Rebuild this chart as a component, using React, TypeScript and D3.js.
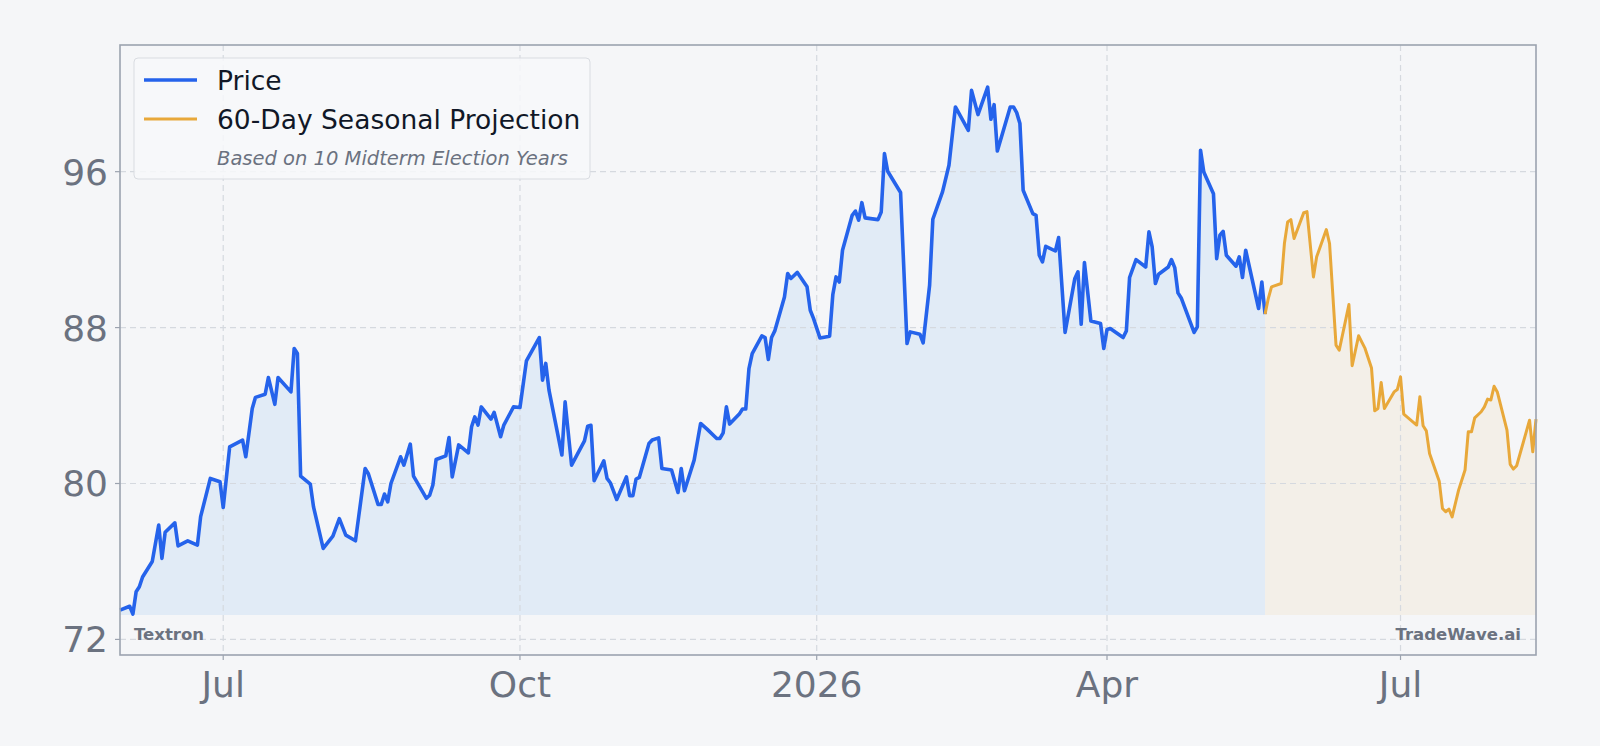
import React from "react";
import * as d3 from "d3";

const W = 1600;
const H = 746;

// day offsets counted from the first trading day shown
const startDate = new Date(2025, 4, 30);
const endDate = new Date(2026, 7, 12);

const pricePoints: [number, number][] = [
  [0, 73.5], [3, 73.7], [4, 73.3], [5, 74.45], [6, 74.7], [7, 75.2], [10, 76.0], [12, 77.87], [13, 76.16], [14, 77.5],
  [17, 77.98], [18, 76.8], [21, 77.06], [24, 76.84], [25, 78.3], [28, 80.26], [31, 80.09], [32, 78.77], [34, 81.88], [38, 82.23],
  [39, 81.37], [41, 83.85], [42, 84.42], [45, 84.58], [46, 85.44], [48, 84.06], [49, 85.44], [53, 84.7], [54, 86.93], [55, 86.67],
  [56, 80.38], [59, 79.97], [60, 78.8], [63, 76.67], [66, 77.3], [68, 78.2], [70, 77.35], [73, 77.06], [74, 78.3], [76, 80.77],
  [77, 80.5], [80, 78.93], [81, 78.93], [82, 79.46], [83, 79.06], [84, 80.0], [87, 81.37], [88, 80.94], [90, 82.02], [91, 80.38],
  [95, 79.24], [96, 79.4], [97, 79.92], [98, 81.23], [101, 81.42], [102, 82.36], [103, 80.34], [105, 81.98], [108, 81.57], [109, 82.91],
  [110, 83.42], [111, 83.0], [112, 83.93], [115, 83.3], [116, 83.65], [118, 82.4], [119, 83.0], [122, 83.93], [124, 83.9], [126, 86.29],
  [130, 87.49], [131, 85.3], [132, 86.16], [133, 84.79], [137, 81.46], [138, 84.19], [140, 80.94], [144, 82.19], [145, 82.94], [146, 82.99],
  [147, 80.14], [150, 81.16], [151, 80.26], [152, 80.04], [154, 79.18], [157, 80.34], [158, 79.37], [159, 79.37], [160, 80.23], [161, 80.31],
  [164, 82.05], [165, 82.23], [167, 82.34], [168, 80.77], [171, 80.69], [173, 79.54], [174, 80.77], [175, 79.63], [178, 81.2], [180, 83.08],
  [182, 82.79], [185, 82.31], [186, 82.31], [187, 82.6], [188, 83.93], [189, 83.05], [192, 83.56], [193, 83.82], [194, 83.82], [195, 85.9],
  [196, 86.67], [199, 87.57], [200, 87.49], [201, 86.36], [202, 87.49], [203, 87.83], [206, 89.57], [207, 90.77], [208, 90.52], [210, 90.83],
  [213, 90.09], [214, 88.89], [215, 88.47], [217, 87.47], [220, 87.56], [221, 89.7], [222, 90.6], [223, 90.34], [224, 91.97], [227, 93.76],
  [228, 93.98], [229, 93.51], [230, 94.41], [231, 93.63], [235, 93.54], [236, 93.93], [237, 96.93], [238, 96.02], [242, 94.93], [244, 87.18],
  [245, 87.78], [248, 87.66], [249, 87.22], [251, 90.17], [252, 93.56], [255, 94.96], [257, 96.33], [259, 99.32], [263, 98.12], [264, 100.17],
  [266, 98.93], [269, 100.34], [270, 98.69], [271, 99.44], [272, 97.06], [276, 99.32], [277, 99.32], [278, 99.03], [279, 98.47], [280, 95.05],
  [283, 93.85], [284, 93.76], [285, 91.71], [286, 91.37], [287, 92.17], [290, 91.93], [291, 92.62], [293, 87.75], [296, 90.5], [297, 90.86],
  [298, 88.17], [299, 91.34], [301, 88.34], [304, 88.21], [305, 86.93], [306, 87.9], [307, 87.95], [311, 87.49], [312, 87.83], [313, 90.57],
  [315, 91.49], [318, 91.11], [319, 92.91], [320, 92.14], [321, 90.26], [322, 90.74], [325, 91.11], [326, 91.49], [327, 91.08], [328, 89.78],
  [329, 89.52], [333, 87.75], [334, 88.04], [335, 97.1], [336, 95.98], [339, 94.87], [340, 91.54], [341, 92.74], [342, 92.94], [343, 91.71],
  [346, 91.15], [347, 91.63], [348, 90.57], [349, 91.97], [353, 88.98], [354, 90.34], [355, 88.69],
];

const projectionPoints: [number, number][] = [
  [355, 88.69], [356, 89.49], [357, 90.09], [360, 90.26], [361, 92.31], [362, 93.42], [363, 93.54], [364, 92.57], [367, 93.9], [368, 93.95],
  [370, 90.6], [371, 91.63], [374, 93.03], [375, 92.31], [377, 87.1], [378, 86.84], [381, 89.18], [382, 86.04], [384, 87.58], [386, 86.93],
  [388, 85.93], [389, 83.73], [390, 83.85], [391, 85.18], [392, 83.85], [395, 84.7], [396, 84.82], [397, 85.47], [398, 83.56], [402, 83.0],
  [403, 84.45], [404, 82.96], [405, 82.7], [406, 81.54], [409, 80.12], [410, 78.72], [411, 78.55], [412, 78.69], [413, 78.29], [415, 79.66],
  [417, 80.69], [418, 82.65], [419, 82.65], [420, 83.37], [422, 83.68], [423, 83.93], [424, 84.33], [425, 84.28], [426, 84.99], [427, 84.7],
  [430, 82.74], [431, 80.98], [432, 80.74], [433, 80.91], [437, 83.25], [438, 81.63], [439, 83.3],
];

const yTicks = [72, 80, 88, 96];
const xTickDates = ["2025-07-01", "2025-10-01", "2026-01-01", "2026-04-01", "2026-07-01"];
const xTickLabels = ["Jul", "Oct", "2026", "Apr", "Jul"];
const legendLabels = ["Price", "60-Day Seasonal Projection"];
const legendNote = "Based on 10 Midterm Election Years";
const tickerLabel = "Textron";
const brandLabel = "TradeWave.ai";

const BG = "#f5f6f8";
const BLUE = "#2563eb";
const ORANGE = "#e8a83a";
const BLUE_FILL = "#e1ebf6";
const ORANGE_FILL = "#f3efe8";
const GRID = "#d5d9df";
const SPINE = "#9ca3af";
const TEXT = "#6b7280";
const FONT = "DejaVu Sans, Verdana, sans-serif";

export default function App() {
  const left = 120, right = 1536, top = 45, bottom = 655;
  const parse = d3.timeParse("%Y-%m-%d");

  const x = d3.scaleTime().domain([startDate, endDate]).range([left, right]);
  const y = d3.scaleLinear().domain([71.2, 102.5]).range([bottom, top]);

  const toDate = (d: number) => d3.timeDay.offset(startDate, d);
  const base = d3.min(pricePoints, (p) => p[1])! - 0.05;

  const line = d3
    .line<[number, number]>()
    .x((p) => x(toDate(p[0])))
    .y((p) => y(p[1]));
  const area = d3
    .area<[number, number]>()
    .x((p) => x(toDate(p[0])))
    .y0(y(base))
    .y1((p) => y(p[1]));

  const ticks = xTickDates.map((s) => parse(s)!);

  return (
    <svg
      width={W}
      height={H}
      style={{ position: "absolute", left: 0, top: 0, display: "block" }}
      fontFamily={FONT}
    >
      <rect width={W} height={H} fill={BG} />

      {/* fills */}
      <path d={area(pricePoints)!} fill={BLUE_FILL} />
      <path d={area(projectionPoints)!} fill={ORANGE_FILL} />

      {/* grid */}
      {yTicks.map((t) => (
        <line key={"gy" + t} x1={left} x2={right} y1={y(t)} y2={y(t)} stroke={GRID} strokeWidth={1.2} strokeDasharray="6,4" />
      ))}
      {ticks.map((d, i) => (
        <line key={"gx" + i} x1={x(d)} x2={x(d)} y1={top} y2={bottom} stroke={GRID} strokeWidth={1.2} strokeDasharray="6,4" />
      ))}

      {/* series */}
      <path d={line(pricePoints)!} fill="none" stroke={BLUE} strokeWidth={3.6} strokeLinejoin="round" />
      <path d={line(projectionPoints)!} fill="none" stroke={ORANGE} strokeWidth={3} strokeLinejoin="round" />

      {/* spines */}
      <rect x={left} y={top} width={right - left} height={bottom - top} fill="none" stroke={SPINE} strokeWidth={1.6} />

      {/* y axis */}
      {yTicks.map((t) => (
        <g key={"ty" + t}>
          <line x1={left - 5} x2={left} y1={y(t)} y2={y(t)} stroke={SPINE} strokeWidth={1.2} />
          <text x={left - 12} y={y(t)} dy="0.36em" textAnchor="end" fontSize={36} fill={TEXT}>
            {t}
          </text>
        </g>
      ))}

      {/* x axis */}
      {ticks.map((d, i) => (
        <g key={"tx" + i}>
          <line x1={x(d)} x2={x(d)} y1={bottom} y2={bottom + 5} stroke={SPINE} strokeWidth={1.2} />
          <text x={x(d)} y={bottom + 42} textAnchor="middle" fontSize={36} fill={TEXT}>
            {xTickLabels[i]}
          </text>
        </g>
      ))}

      {/* legend */}
      <rect x={134} y={58} width={456} height={121} rx={4} fill="#f7f8fa" fillOpacity={0.85} stroke="#d9dce1" strokeWidth={1} />
      <line x1={144} x2={197} y1={80} y2={80} stroke={BLUE} strokeWidth={3.6} />
      <text x={217} y={80} dy="0.36em" fontSize={26.5} fill="#111827">
        {legendLabels[0]}
      </text>
      <line x1={144} x2={197} y1={119} y2={119} stroke={ORANGE} strokeWidth={3} />
      <text x={217} y={119} dy="0.36em" fontSize={26.5} fill="#111827">
        {legendLabels[1]}
      </text>
      <text x={217} y={158} dy="0.36em" fontSize={19.5} fontStyle="italic" fill={TEXT}>
        {legendNote}
      </text>

      {/* watermarks */}
      <text x={134} y={640} fontSize={16.5} fontWeight="bold" fill={TEXT}>
        {tickerLabel}
      </text>
      <text x={1521} y={640} textAnchor="end" fontSize={16.5} fontWeight="bold" fill={TEXT}>
        {brandLabel}
      </text>
    </svg>
  );
}
